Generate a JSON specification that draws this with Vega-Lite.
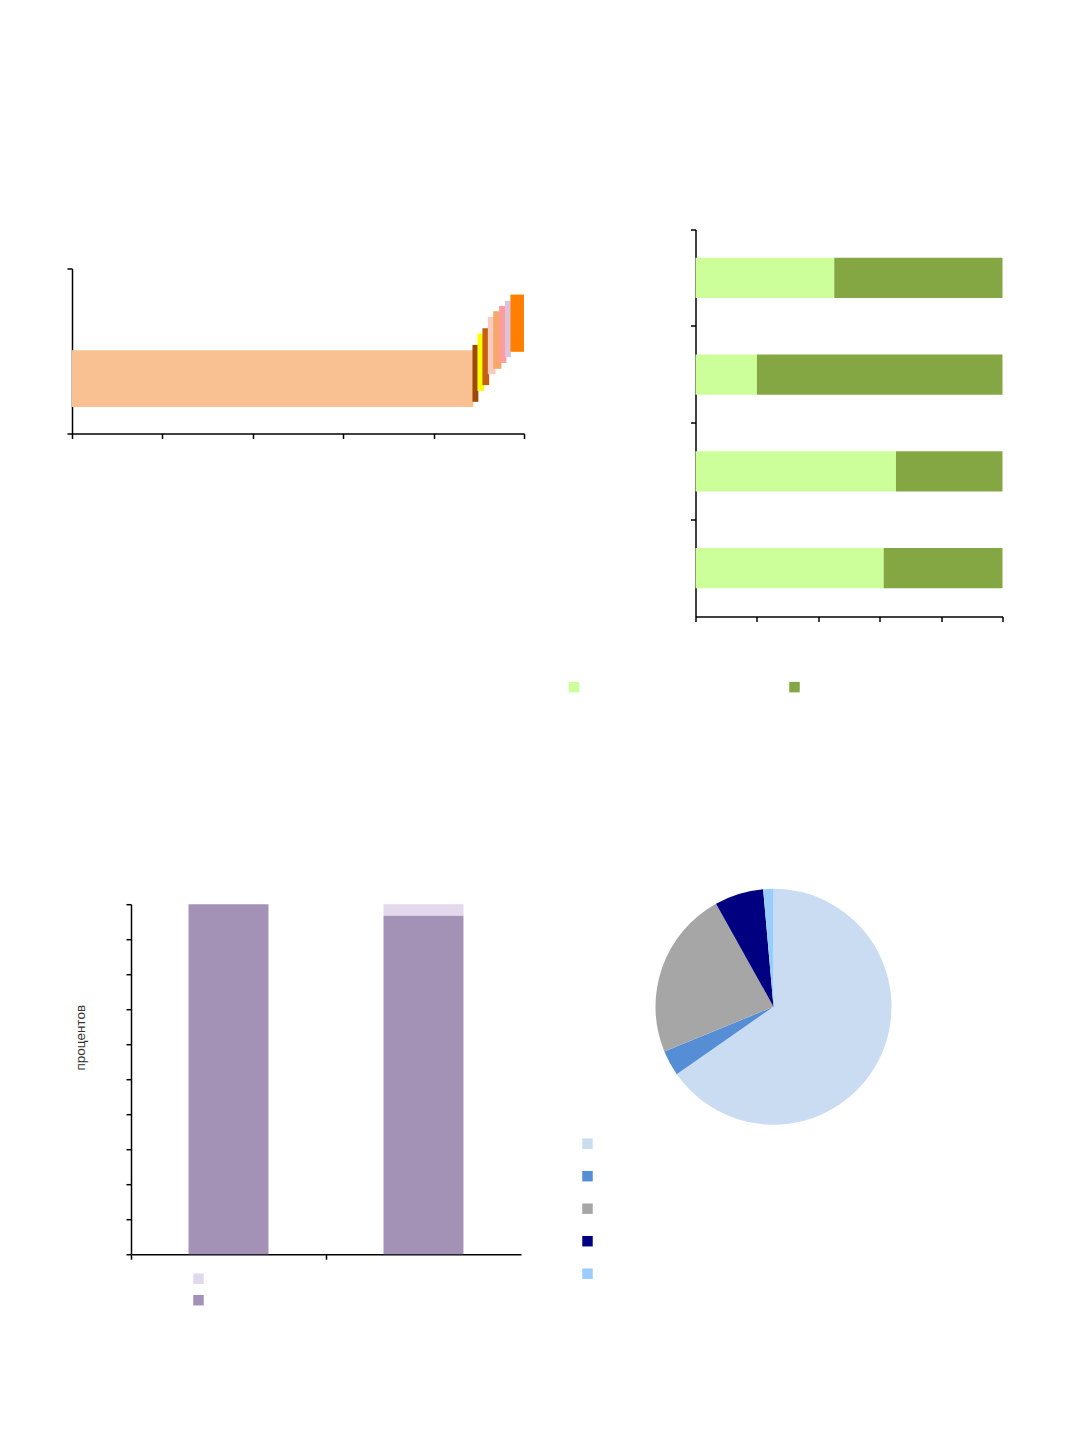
{
  "$schema": "https://vega.github.io/schema/vega-lite/v6.json",
  "padding": {"left": 66, "top": 228.5, "right": 0, "bottom": 0},
  "bounds": "flush",
  "align": "all",
  "columns": 2,
  "spacing": {"row": 287.7, "column": 171.5},
  "resolve": {
    "scale": {"color": "independent"},
    "legend": {"color": "independent"}
  },
  "config": {
    "view": {"stroke": null},
    "font": "Liberation Sans",
    "axis": {
      "domainColor": "black",
      "tickColor": "black",
      "domainWidth": 1.5,
      "tickWidth": 1.5,
      "tickSize": 5,
      "labels": false,
      "grid": false
    },
    "legend": {
      "symbolType": "square",
      "symbolSize": 110,
      "symbolStrokeWidth": 0,
      "symbolOpacity": 1,
      "padding": 0,
      "labelOffset": 0,
      "labelFontSize": 1
    }
  },
  "concat": [
    {
      "width": 452,
      "height": 204,
      "data": {
        "values": [
          {"part": "p1", "start": 0, "end": 88.8, "low": 16.1, "high": 50.5},
          {"part": "p2", "start": 88.6, "end": 89.9, "low": 19.2, "high": 53.7},
          {"part": "p3", "start": 89.7, "end": 91.2, "low": 25.8, "high": 60.6},
          {"part": "p4", "start": 90.8, "end": 92.3, "low": 29.3, "high": 63.8},
          {"part": "p5", "start": 92.0, "end": 93.7, "low": 35.9, "high": 70.7},
          {"part": "p6", "start": 93.2, "end": 95.0, "low": 39.2, "high": 74.1},
          {"part": "p7", "start": 94.5, "end": 96.1, "low": 42.8, "high": 77.3},
          {"part": "p8", "start": 95.8, "end": 97.1, "low": 46.4, "high": 80.4},
          {"part": "p9", "start": 97.0, "end": 100, "low": 49.5, "high": 84.2}
        ]
      },
      "mark": {"type": "rect"},
      "encoding": {
        "x": {
          "field": "start",
          "type": "quantitative",
          "scale": {"domain": [0, 100]},
          "axis": {"values": [0, 20, 40, 60, 80, 100], "title": null}
        },
        "x2": {"field": "end"},
        "y": {
          "field": "low",
          "type": "quantitative",
          "scale": {"domain": [0, 100], "range": [204, 39]},
          "axis": {"values": [0, 100], "title": null}
        },
        "y2": {"field": "high"},
        "color": {
          "field": "part",
          "type": "nominal",
          "scale": {
            "domain": ["p1", "p2", "p3", "p4", "p5", "p6", "p7", "p8", "p9"],
            "range": ["#F9C192", "#9C4A06", "#FFFF00", "#C4600F", "#F9CBC0", "#F8A76A", "#FF9C9C", "#DCC2DC", "#FF8000"]
          },
          "legend": null
        }
      }
    },
    {
      "width": 307,
      "height": 387,
      "data": {
        "values": [
          {"cat": "a", "series": "s1", "value": 45.2, "k": 1},
          {"cat": "a", "series": "s2", "value": 54.8, "k": 2},
          {"cat": "b", "series": "s1", "value": 20.0, "k": 1},
          {"cat": "b", "series": "s2", "value": 80.0, "k": 2},
          {"cat": "c", "series": "s1", "value": 65.3, "k": 1},
          {"cat": "c", "series": "s2", "value": 34.7, "k": 2},
          {"cat": "d", "series": "s1", "value": 61.3, "k": 1},
          {"cat": "d", "series": "s2", "value": 38.7, "k": 2}
        ]
      },
      "mark": {"type": "bar", "height": {"band": 0.417}},
      "encoding": {
        "y": {
          "field": "cat",
          "type": "nominal",
          "sort": null,
          "scale": {"paddingInner": 0, "paddingOuter": 0},
          "axis": {"bandPosition": 0, "title": null}
        },
        "x": {
          "field": "value",
          "type": "quantitative",
          "stack": "zero",
          "scale": {"domain": [0, 100]},
          "axis": {"values": [0, 20, 40, 60, 80, 100], "title": null}
        },
        "color": {
          "field": "series",
          "type": "nominal",
          "scale": {"domain": ["s1", "s2"], "range": ["#CCFF99", "#85A743"]},
          "legend": {
            "orient": "none",
            "legendX": -127,
            "legendY": 452,
            "direction": "horizontal",
            "columnPadding": 209.5,
            "labelExpr": "''",
            "title": null
          }
        },
        "order": {"field": "k"}
      }
    },
    {
      "width": 450,
      "height": 350,
      "data": {
        "values": [
          {"cat": "a", "series": "light", "value": 0, "k": 2},
          {"cat": "a", "series": "main", "value": 100, "k": 1},
          {"cat": "b", "series": "light", "value": 3.3, "k": 2},
          {"cat": "b", "series": "main", "value": 96.7, "k": 1}
        ]
      },
      "mark": {"type": "bar", "width": {"band": 0.41}},
      "encoding": {
        "x": {
          "field": "cat",
          "type": "nominal",
          "sort": null,
          "scale": {"range": [59, 449], "paddingInner": 0, "paddingOuter": 0},
          "axis": {"bandPosition": 0, "title": null}
        },
        "y": {
          "field": "value",
          "type": "quantitative",
          "stack": "zero",
          "scale": {"domain": [0, 100]},
          "axis": {
            "values": [0, 10, 20, 30, 40, 50, 60, 70, 80, 90, 100],
            "offset": -59,
            "title": "процентов",
            "titleX": -51,
            "titleY": 133,
            "titleAngle": 270,
            "titleAlign": "center",
            "titleBaseline": "middle",
            "titleFontSize": 13.5,
            "titleFontWeight": "normal",
            "titleColor": "#333333"
          }
        },
        "color": {
          "field": "series",
          "type": "nominal",
          "scale": {"domain": ["light", "main"], "range": ["#E4D8EC", "#A492B6"]},
          "legend": {
            "orient": "none",
            "legendX": 121,
            "legendY": 369,
            "direction": "vertical",
            "rowPadding": 10.5,
            "labelExpr": "''",
            "title": null
          }
        },
        "order": {"field": "k"}
      }
    },
    {
      "width": 156,
      "height": 205,
      "data": {
        "values": [
          {"part": "q1", "share": 65.3, "k": 1},
          {"part": "q2", "share": 3.5, "k": 2},
          {"part": "q3", "share": 23.1, "k": 3},
          {"part": "q4", "share": 6.7, "k": 4},
          {"part": "q5", "share": 1.4, "k": 5}
        ]
      },
      "mark": {"type": "arc", "radius": 118},
      "encoding": {
        "theta": {"field": "share", "type": "quantitative"},
        "color": {
          "field": "part",
          "type": "nominal",
          "scale": {
            "domain": ["q1", "q2", "q3", "q4", "q5"],
            "range": ["#CADCF1", "#558ED5", "#A6A6A6", "#000080", "#99CCFF"]
          },
          "legend": {
            "orient": "none",
            "legendX": -113.5,
            "legendY": 234,
            "direction": "vertical",
            "rowPadding": 21.5,
            "labelExpr": "''",
            "title": null
          }
        },
        "order": {"field": "k"}
      }
    }
  ]
}
